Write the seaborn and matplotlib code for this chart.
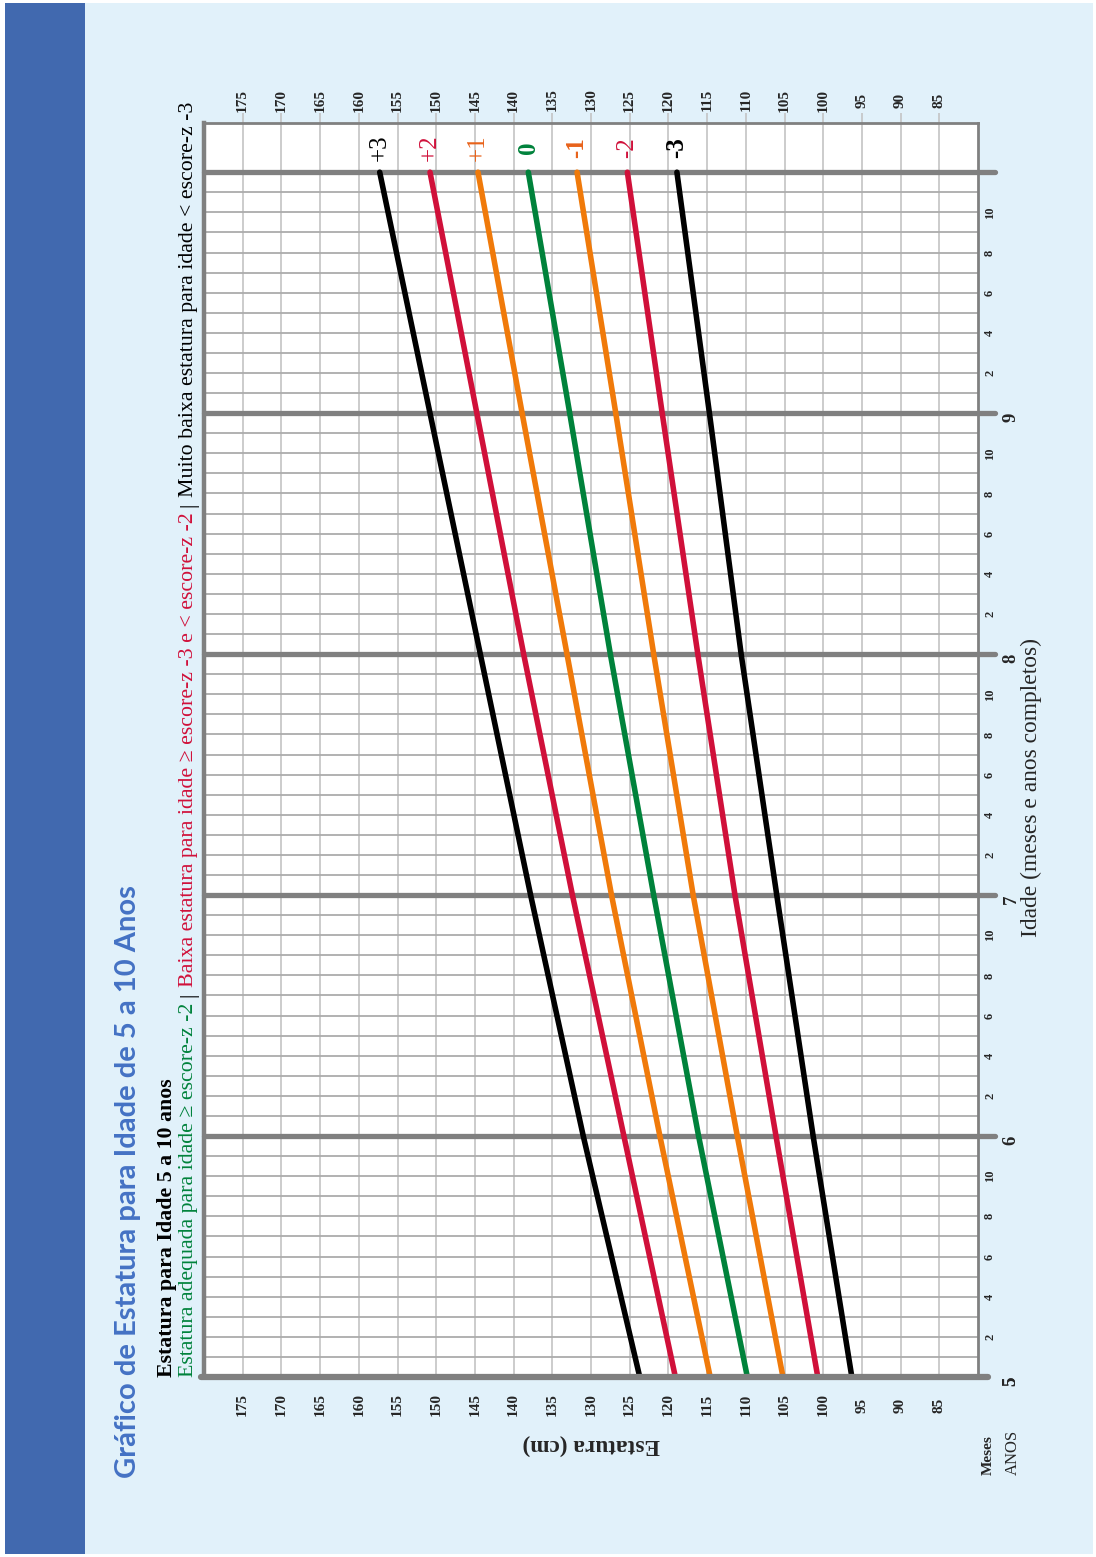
import numpy as np
import pandas as pd
import matplotlib
matplotlib.use("Agg")
import matplotlib.pyplot as plt
import matplotlib.transforms as mtransforms
from matplotlib.patches import Rectangle
import seaborn as sns

# ---------------- data ----------------
age_months = [60, 72, 84, 96, 108, 120]
z_labels = ["+3", "+2", "+1", "0", "-1", "-2", "-3"]
h_p3 = [123.7, 131.0, 137.8, 144.3, 150.8, 157.3]
h_p2 = [119.1, 125.75, 132.4, 138.7, 144.75, 150.8]
h_p1 = [114.6, 121.1, 127.35, 133.1, 138.9, 144.6]
h_0 = [109.8, 116.1, 121.9, 127.5, 132.75, 138.1]
h_m1 = [105.2, 111.1, 116.8, 121.9, 126.8, 131.8]
h_m2 = [100.7, 106.1, 111.4, 116.2, 120.8, 125.3]
h_m3 = [96.3, 101.3, 106.0, 110.6, 114.7, 118.9]
height_ticks = list(range(85, 180, 5))
year_labels = ["5", "6", "7", "8", "9"]
year_months = [60, 72, 84, 96, 108]
month_labels = ["2", "4", "6", "8", "10"]

series = {"+3": h_p3, "+2": h_p2, "+1": h_p1, "0": h_0,
          "-1": h_m1, "-2": h_m2, "-3": h_m3}
df = pd.concat([pd.DataFrame({"z": k, "months": age_months, "height": v})
                for k, v in series.items()], ignore_index=True)

# ---------------- style ----------------
BLACK, RED, ORANGE, GREEN = "#000000", "#D0103A", "#F07A0A", "#00823B"
line_colors = {"+3": BLACK, "+2": RED, "+1": ORANGE, "0": GREEN,
               "-1": ORANGE, "-2": RED, "-3": BLACK}
label_colors = {"+3": BLACK, "+2": RED, "+1": "#E8621A", "0": GREEN,
                "-1": "#E8621A", "-2": RED, "-3": BLACK}
label_weights = {"+3": "normal", "+2": "normal", "+1": "normal", "0": "bold",
                 "-1": "bold", "-2": "normal", "-3": "bold"}

sns.set_style("white")
plt.rcParams["font.family"] = ["Liberation Serif", "DejaVu Serif"]

W, H = 1096, 1557
fig = plt.figure(figsize=(W / 100, H / 100), dpi=100)
fig.patch.set_facecolor("white")

def fx(px):
    return px / W

def fy(py):
    return 1 - py / H

# background panels
fig.patches.append(Rectangle((fx(85), fy(1554)), fx(1093) - fx(85), fy(3) - fy(1554),
                             transform=fig.transFigure, facecolor="#E1F1FA",
                             edgecolor="none", zorder=-2))
fig.patches.append(Rectangle((fx(5), fy(1554)), fx(85) - fx(5), fy(3) - fy(1554),
                             transform=fig.transFigure, facecolor="#4169AF",
                             edgecolor="none", zorder=-2))

ax = fig.add_axes([fx(204), fy(1377), fx(978) - fx(204), fy(123) - fy(1377)])
ax.set_facecolor("white")

sns.lineplot(data=df, x="height", y="months", hue="z", palette=line_colors,
             orient="y", sort=True, legend=False, linewidth=4.0,
             solid_capstyle="round", ax=ax, zorder=5)

ax.set_xlim(180, 80)
ax.set_ylim(60, 122.45)
ax.set_xlabel("")
ax.set_ylabel("")

# grid
ax.set_xticks(height_ticks)
month_grid = [m for m in range(61, 120) if m % 12 != 0]
ax.set_yticks(month_grid)
ax.grid(axis="x", color="#C4C4C4", linewidth=1.2, zorder=1)
ax.grid(axis="y", color="#ABABAB", linewidth=1.3, zorder=1)
ax.set_axisbelow(True)
ax.xaxis.set_ticks_position("top")
ax.tick_params(axis="x", which="both", top=True, bottom=False, direction="out",
               length=7.5, width=1.2, color="#C4C4C4", labeltop=False, labelbottom=False)
ax.tick_params(axis="y", left=False, right=False, labelleft=False, labelright=False)

# year lines (thick, extending beyond frame)
for m in [72, 84, 96, 108, 120]:
    ax.axhline(m, xmin=0, xmax=1.022, color="#808080", linewidth=3.8,
               clip_on=False, zorder=3)
ax.axhline(60, xmin=-0.004, xmax=1.013, color="#808080", linewidth=4.5,
           clip_on=False, zorder=6)

for side, lw in [("left", 3.2), ("top", 2.0), ("right", 2.0), ("bottom", 0)]:
    ax.spines[side].set_visible(True)
    ax.spines[side].set_color("#808080")
    ax.spines[side].set_linewidth(lw)

# z labels
for z in z_labels:
    ax.text(series[z][-1], 121.2, z, rotation=90, ha="center", va="center",
            fontsize=18, color=label_colors[z], fontweight=label_weights[z],
            zorder=7)

# height tick labels (top and bottom)
tx = mtransforms.blended_transform_factory(ax.transData, fig.transFigure)
for h in height_ticks:
    fig.text(0, 0, str(h), transform=tx, rotation=90, ha="center", va="center",
             fontsize=11, fontweight="bold").set_position((h, fy(100)))
    fig.text(0, 0, str(h), transform=tx, rotation=90, ha="center", va="center",
             fontsize=11, fontweight="bold").set_position((h, fy(1405)))

# month / year labels on the right
ty = mtransforms.blended_transform_factory(fig.transFigure, ax.transData)
for ym in year_months:
    for i, ml in enumerate(month_labels):
        fig.text(fx(990), ym + 2 * (i + 1), ml, transform=ty, rotation=90,
                 ha="center", va="center", fontsize=9, fontweight="bold")
for yl, ym in zip(year_labels, year_months):
    fig.text(fx(1011), ym - 0.2, yl, transform=ty, rotation=90,
             ha="center", va="center", fontsize=13.5, fontweight="bold")

renderer = fig.canvas.get_renderer()

def text_len(t):
    bb = t.get_window_extent(renderer)
    return bb.height if abs(t.get_rotation() - 90) < 1 else bb.width

def fit(t, target):
    t.set_fontsize(t.get_fontsize() * target / text_len(t))

# title
t = fig.text(fx(136), fy(1478), "Gráfico de Estatura para Idade de 5 a 10 Anos",
             rotation=90, rotation_mode="anchor", ha="left", va="baseline",
             fontsize=22, fontweight="bold", color="#4472C4",
             family=["Lato", "DejaVu Sans"])
fit(t, 590)

# subtitle 1
t = fig.text(fx(172), fy(1377), "Estatura para Idade 5 a 10 anos", rotation=90,
             rotation_mode="anchor", ha="left", va="baseline", fontsize=14,
             fontweight="bold", color="black")
fit(t, 299)

# subtitle 2 (multicolour)
pieces = [("Estatura adequada para idade ≥ escore-z -2", GREEN, True),
          ("|", BLACK, True),
          ("Baixa estatura para idade ≥ escore-z -3 e < escore-z -2", RED, True),
          ("|", BLACK, True),
          ("Muito baixa estatura para idade < escore-z -3", BLACK, False)]

def draw_pieces(size):
    objs = []
    probe1 = fig.text(0, 0, "a a", fontsize=size)
    probe2 = fig.text(0, 0, "aa", fontsize=size)
    gap = probe1.get_window_extent(renderer).width - probe2.get_window_extent(renderer).width
    probe1.remove()
    probe2.remove()
    y = 1377.0
    for txt, col, add_gap in pieces:
        o = fig.text(fx(193), fy(y), txt, rotation=90, rotation_mode="anchor",
                     ha="left", va="baseline", fontsize=size, color=col)
        objs.append(o)
        y -= text_len(o)
        if add_gap:
            y -= gap
    return objs, 1377.0 - y

objs, total = draw_pieces(14)
for o in objs:
    o.remove()
draw_pieces(14 * 1282 / total)

# axis titles
t = fig.text(fx(591), fy(1445), "Estatura (cm)", rotation=180, ha="center",
             va="center", fontsize=14, fontweight="bold")
fit(t, 138)
t = fig.text(fx(1037), fy(937), "Idade (meses e anos completos)", rotation=90,
             rotation_mode="anchor", ha="left", va="baseline", fontsize=15)
fit(t, 300)

fig.text(fx(992), fy(1475), "Meses", rotation=90, rotation_mode="anchor",
         ha="left", va="baseline", fontsize=11, fontweight="bold")
fig.text(fx(1017), fy(1475), "ANOS", rotation=90, rotation_mode="anchor",
         ha="left", va="baseline", fontsize=12)
fig.text(fx(1011), fy(1381), "5", rotation=90, ha="center", va="center",
         fontsize=13.5, fontweight="bold")

fig.savefig("out.png", dpi=100)
